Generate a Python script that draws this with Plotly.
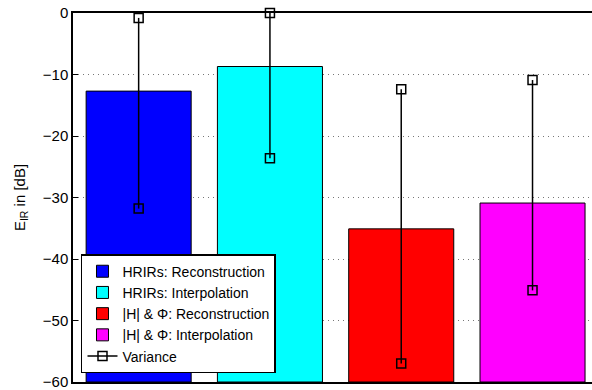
import plotly.graph_objects as go

categories = ["HRIRs: Reconstruction", "HRIRs: Interpolation",
              "|H| & \u03a6: Reconstruction", "|H| & \u03a6: Interpolation"]
positions = [1, 2, 3, 4]
bar_values = [-12.7, -8.7, -35.1, -30.9]
var_upper = [-0.8, 0.0, -12.4, -10.9]
var_lower = [-31.8, -23.6, -57.0, -45.1]
colors = ["#0000ff", "#00ffff", "#ff0000", "#ff00ff"]
y_ticks = [0, -10, -20, -30, -40, -50, -60]
y_floor = -60

fig = go.Figure()
for name, x, v, c in zip(categories, positions, bar_values, colors):
    fig.add_trace(go.Bar(
        x=[x], y=[v - y_floor], base=y_floor, name=name, width=0.8,
        marker=dict(color=c, line=dict(color="black", width=1)),
    ))

vx, vy = [], []
for x, u, l in zip(positions, var_upper, var_lower):
    vx += [x, x, None]
    vy += [u, l, None]
fig.add_trace(go.Scatter(
    x=vx, y=vy, name="Variance", mode="lines+markers",
    line=dict(color="black", width=1.5),
    marker=dict(symbol="square-open", size=9, color="black", line=dict(width=1.5)),
    cliponaxis=False,
))

fig.update_layout(
    width=592, height=390,
    margin=dict(l=73, r=0, t=13, b=8),
    plot_bgcolor="white", paper_bgcolor="white",
    barmode="overlay",
    font=dict(family="Liberation Sans, Arial, sans-serif", size=15, color="black"),
    showlegend=True,
    legend=dict(
        x=0.0154, y=0.024, xanchor="left", yanchor="bottom",
        bgcolor="white", bordercolor="black", borderwidth=1.5,
        font=dict(size=14), tracegroupgap=0,
    ),
    xaxis=dict(
        range=[0.5, 4.453], showticklabels=False, ticks="",
        showgrid=False, zeroline=False,
        showline=True, linecolor="black", linewidth=1.5, mirror=True,
    ),
    yaxis=dict(
        range=[-60, 0], tickvals=y_ticks, ticks="inside", ticklen=5,
        tickcolor="black", showgrid=True, gridcolor="#777777",
        griddash="1px,4px", gridwidth=1, zeroline=False,
        showline=True, linecolor="black", linewidth=1.5,
        tickfont=dict(size=15), ticklabeloverflow="allow",
        title=dict(text="E<sub>IR</sub> in [dB]", font=dict(size=15), standoff=14),
    ),
)

fig.write_html("out.html", config={"displayModeBar": False},
               post_script="document.body.style.margin='0';")
